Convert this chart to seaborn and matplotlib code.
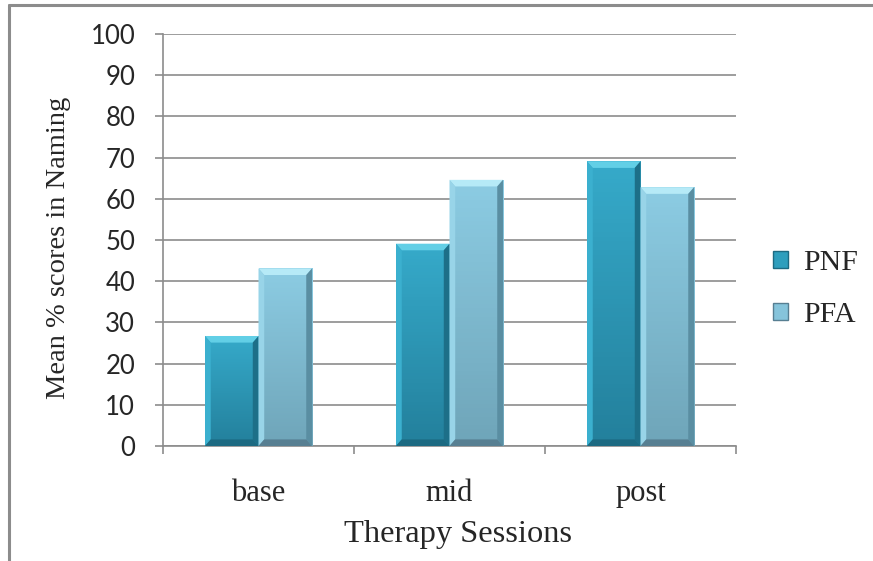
import numpy as np
import pandas as pd
import matplotlib.pyplot as plt
import seaborn as sns
from matplotlib.patches import Polygon, Patch
from matplotlib.colors import LinearSegmentedColormap
from matplotlib.lines import Line2D

# data
sessions = ['base', 'mid', 'post']
pnf = [26.7, 49.1, 69.1]
pfa = [43.1, 64.6, 62.8]
groups = ['PNF', 'PFA']
y_ticks = [0, 10, 20, 30, 40, 50, 60, 70, 80, 90, 100]

df = pd.DataFrame({
    'session': sessions * 2,
    'score': pnf + pfa,
    'group': ['PNF'] * 3 + ['PFA'] * 3,
})

# colour sets per group: face, gradient top/bottom, bevel top, left, right, bottom
styles = {
    'PNF': dict(face='#2E9EBD', top='#36AACA', bot='#23809C', btop='#62CFE6',
                left='#3BB0CF', right='#1D6F88', bottom='#1C6A82'),
    'PFA': dict(face='#86C4DB', top='#8CCCE3', bot='#6FA5B9', btop='#B6EAF7',
                left='#98D4E8', right='#5A8EA2', bottom='#577F92'),
}

sns.set_style('white')
plt.rcParams['font.family'] = ['Liberation Serif', 'DejaVu Serif']

fig = plt.figure(figsize=(8.73, 5.61), dpi=100)
ax = fig.add_axes([163 / 873, 1 - 446 / 561, (736 - 163) / 873, (446 - 34) / 561])

sns.barplot(data=df, x='session', y='score', hue='group', hue_order=groups,
            palette=[styles[g]['face'] for g in groups], saturation=1,
            width=0.56, ax=ax, legend=False, zorder=3, linewidth=0,
            edgecolor='none')

ax.set_ylim(0, 100)
ax.set_xlim(-0.5, 2.5)

# bevel / gradient look
bx, by = 0.03, 1.6
for i, patch in enumerate(list(ax.patches)):
    g = groups[i // 3]
    st = styles[g]
    x, y0 = patch.get_x(), patch.get_y()
    w, h = patch.get_width(), patch.get_height()
    if h <= 0:
        continue
    cmap = LinearSegmentedColormap.from_list('g', [st['bot'], st['top']])
    grad = np.linspace(0, 1, 64).reshape(-1, 1)
    im = ax.imshow(grad, extent=[x, x + w, y0, y0 + h], origin='lower',
                   cmap=cmap, aspect='auto', zorder=3.5)
    im.set_clip_path(patch)
    polys = [
        ([(x, h), (x + w, h), (x + w - bx, h - by), (x + bx, h - by)], st['btop']),
        ([(x, 0), (x, h), (x + bx, h - by), (x + bx, by)], st['left']),
        ([(x + w, h), (x + w, 0), (x + w - bx, by), (x + w - bx, h - by)], st['right']),
        ([(x, 0), (x + w, 0), (x + w - bx, by), (x + bx, by)], st['bottom']),
    ]
    for pts, c in polys:
        ax.add_patch(Polygon(pts, closed=True, facecolor=c, edgecolor='none', zorder=4))

ax.set_xlim(-0.5, 2.5)
ax.set_ylim(0, 100)

# grid and spines
ax.set_yticks(y_ticks)
ax.yaxis.grid(True, color='#8C8C8C', linewidth=1.2, zorder=0)
ax.set_axisbelow(True)
for s in ['top', 'right']:
    ax.spines[s].set_visible(False)
for s in ['left', 'bottom']:
    ax.spines[s].set_color('#8C8C8C')
    ax.spines[s].set_linewidth(1.2)

ax.tick_params(axis='y', length=6, width=1.2, color='#8C8C8C', pad=14,
               labelsize=18.5, left=True)
for lbl in ax.get_yticklabels():
    lbl.set_family(['Lato', 'DejaVu Sans'])

ax.set_xticks([0, 1, 2])
ax.set_xticklabels(sessions)
ax.set_xticks([-0.5, 0.5, 1.5, 2.5], minor=True)
ax.tick_params(axis='x', which='major', length=0, labelsize=22, pad=24)
ax.tick_params(axis='x', which='minor', length=6, width=1.2, color='#8C8C8C',
               bottom=True, direction='out')

ax.set_xlabel('Therapy Sessions', fontsize=23.4)
ax.set_ylabel('Mean % scores in Naming', fontsize=20.5)
ax.xaxis.set_label_coords(0.515, -0.18)
ax.yaxis.set_label_coords(-0.16, 0.48)

# legend with square keys
handles = [Patch(facecolor=styles[g]['face'], edgecolor=styles[g]['bottom']) for g in groups]
fig.legend(handles, groups, loc='center left', bbox_to_anchor=(758 / 873, 1 - 289 / 561),
           frameon=False, fontsize=21.5, handlelength=0.5, handleheight=0.5,
           handletextpad=0.5, labelspacing=0.85, borderpad=0)

# outer chart-area frame (top and left edges visible)
fig.add_artist(Line2D([9 / 873, 1], [1 - 5 / 561, 1 - 5 / 561],
                      transform=fig.transFigure, color='#8C8C8C', linewidth=2.2))
fig.add_artist(Line2D([9 / 873, 9 / 873], [0, 1 - 5 / 561],
                      transform=fig.transFigure, color='#8C8C8C', linewidth=2.2))

fig.savefig('out.png', dpi=100)
